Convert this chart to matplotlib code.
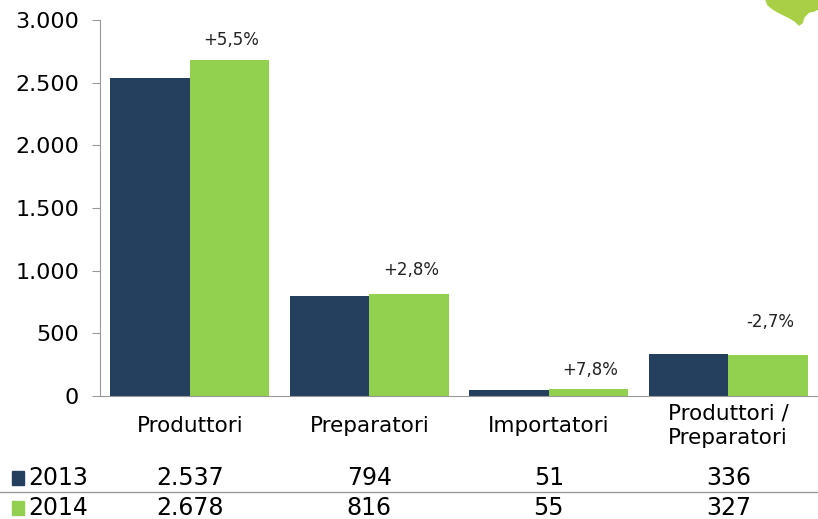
import numpy as np
import matplotlib.pyplot as plt
from matplotlib.transforms import blended_transform_factory
from matplotlib.patches import Polygon

categories = ["Produttori", "Preparatori", "Importatori", "Produttori /\nPreparatori"]
years = ["2013", "2014"]
v2013 = [2537, 794, 51, 336]
v2014 = [2678, 816, 55, 327]
v2013_txt = ["2.537", "794", "51", "336"]
v2014_txt = ["2.678", "816", "55", "327"]
changes = ["+5,5%", "+2,8%", "+7,8%", "-2,7%"]
yticks = [0, 500, 1000, 1500, 2000, 2500, 3000]
ytick_txt = ["0", "500", "1.000", "1.500", "2.000", "2.500", "3.000"]

navy = "#253F5E"
green = "#92D050"

fig = plt.figure(figsize=(8.18, 5.19), dpi=100)
ax = fig.add_axes([100 / 818, 1 - 396 / 519, 718 / 818, 376 / 519])

x = np.arange(len(categories))
w = 0.444
ax.bar(x - w / 2, v2013, w, color=navy)
ax.bar(x + w / 2, v2014, w, color=green)

# label offsets above the green bars (points)
offsets = [14.5, 17, 14, 24]
for xi, v, t, off in zip(x, v2014, changes, offsets):
    ax.annotate(t, (xi + w / 2 + 0.01, v), xytext=(0, off), textcoords="offset points",
                ha="center", va="center", fontsize=12, color="#222222")

ax.set_xlim(-0.5, 3.5)
ax.set_ylim(0, 3000)
ax.set_yticks(yticks)
ax.set_yticklabels(ytick_txt, fontsize=16)
ax.set_xticks([])
for s in ["top", "right"]:
    ax.spines[s].set_visible(False)
ax.spines["left"].set_color("#999999")
ax.spines["bottom"].set_color("#999999")
ax.tick_params(axis="y", direction="out", length=6, color="#999999", pad=9)

# data table under the chart
tr = blended_transform_factory(ax.transData, fig.transFigure)
for xi, c in zip(x, categories):
    fig.text(xi, 1 - 426 / 519, c, transform=tr, ha="center", va="center", fontsize=15.5,
             linespacing=1.3)

rows = [(v2013_txt, navy, 1 - 478 / 519), (v2014_txt, green, 1 - 508 / 519)]
for (vals, col, y), yr in zip(rows, years):
    fig.patches.append(plt.Rectangle((12 / 818, y - 7 / 519), 12 / 818, 14 / 519,
                                     transform=fig.transFigure, color=col))
    fig.text(28 / 818, y, yr, ha="left", va="center", fontsize=17)
    for xi, t in zip(x, vals):
        fig.text(xi, y, t, transform=tr, ha="center", va="center", fontsize=17)

fig.add_artist(plt.Line2D([0, 1], [1 - 492 / 519, 1 - 492 / 519], color="#999999", lw=1))

# decorative green shape top right
blob = [(766, 0), (768, 5), (773, 9), (778, 12), (784, 15), (790, 18), (795, 21),
        (799, 25), (802, 23), (804, 17), (809, 12), (814, 11), (818, 9), (818, 0)]
fig.patches.append(Polygon([(px / 818, 1 - py / 519) for px, py in blob],
                           closed=True, transform=fig.transFigure, color="#A8CF45"))

fig.savefig("out.png", dpi=100)
